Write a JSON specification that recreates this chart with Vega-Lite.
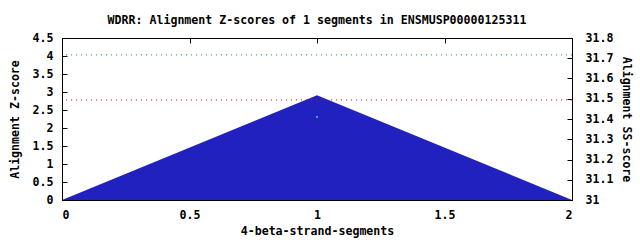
{
  "$schema": "https://vega.github.io/schema/vega-lite/v6.json",
  "autosize": {"type": "none"},
  "width": 510,
  "height": 162,
  "padding": {"left": 62, "top": 38, "right": 68, "bottom": 40},
  "background": "#ffffff",
  "title": {
    "text": "WDRR: Alignment Z-scores of 1 segments in ENSMUSP00000125311",
    "font": "DejaVu Sans Mono",
    "fontSize": 11.6,
    "fontWeight": "bold",
    "color": "#000000",
    "anchor": "middle",
    "offset": 5
  },
  "config": {
    "view": {"stroke": "#000000", "strokeWidth": 1},
    "axis": {
      "labelFont": "DejaVu Sans Mono",
      "labelFontSize": 11.6,
      "labelFontWeight": "bold",
      "labelColor": "#000000",
      "titleFont": "DejaVu Sans Mono",
      "titleFontSize": 11.6,
      "titleFontWeight": "bold",
      "titleColor": "#000000",
      "domainColor": "#000000",
      "tickColor": "#000000",
      "grid": false,
      "tickSize": -5
    }
  },
  "layer": [
    {
      "data": {"values": [{"seg": 0, "z": 0}, {"seg": 1, "z": 2.91}, {"seg": 2, "z": 0}]},
      "mark": {"type": "area", "color": "#2121c0", "interpolate": "linear"},
      "encoding": {
        "x": {
          "field": "seg", "type": "quantitative",
          "scale": {"domain": [0, 2]},
          "axis": {"values": [0, 0.5, 1, 1.5, 2], "labelExpr": "'' + datum.value", "title": "4-beta-strand-segments", "labelPadding": 14, "titlePadding": 5}
        },
        "y": {
          "field": "z", "type": "quantitative",
          "scale": {"domain": [0, 4.5]},
          "axis": {"values": [0, 0.5, 1, 1.5, 2, 2.5, 3, 3.5, 4, 4.5], "labelExpr": "'' + datum.value", "title": "Alignment Z-score", "labelPadding": 14, "titlePadding": 12}
        }
      }
    },
    {
      "data": {"values": [{"threshold": "upper", "z": 4.03}, {"threshold": "lower", "z": 2.78}]},
      "mark": {"type": "rule", "strokeDash": [1, 4], "strokeWidth": 1},
      "encoding": {
        "y": {"field": "z", "type": "quantitative", "scale": {"domain": [0, 4.5]}, "axis": null},
        "color": {"field": "threshold", "type": "nominal", "scale": {"domain": ["upper", "lower"], "range": ["#00b000", "#ff0000"]}, "legend": null}
      }
    },
    {
      "data": {"values": [{"seg": 1, "ss": 31.41}]},
      "mark": {"type": "square", "color": "#40d8e0", "size": 3, "opacity": 1},
      "encoding": {
        "x": {
          "field": "seg", "type": "quantitative",
          "scale": {"domain": [0, 2]},
          "axis": {"orient": "top", "values": [0, 0.5, 1, 1.5, 2], "labels": false, "title": null}
        },
        "y": {
          "field": "ss", "type": "quantitative",
          "scale": {"domain": [31, 31.8]},
          "axis": {"orient": "right", "values": [31, 31.1, 31.2, 31.3, 31.4, 31.5, 31.6, 31.7, 31.8], "labelExpr": "'' + datum.value", "title": "Alignment SS-score", "labelPadding": 18, "titlePadding": 8}
        }
      }
    }
  ],
  "resolve": {"scale": {"y": "independent"}, "axis": {"x": "independent"}}
}
